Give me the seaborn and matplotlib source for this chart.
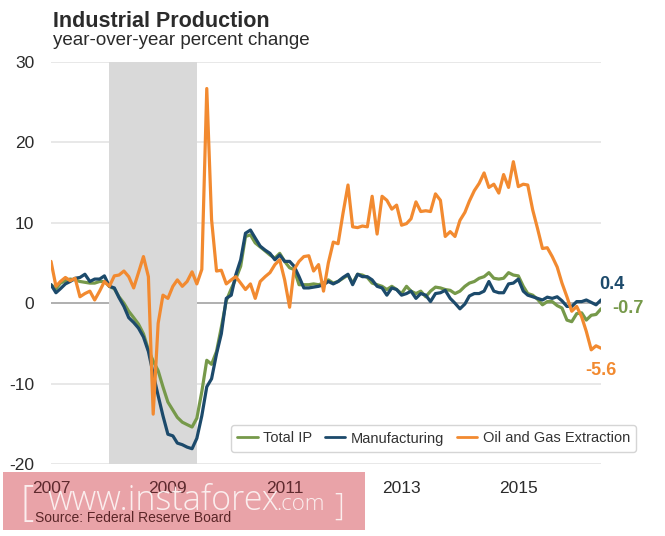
import pandas as pd
import matplotlib.pyplot as plt
import seaborn as sns
from matplotlib.lines import Line2D
from matplotlib.patches import Rectangle

# monthly year-over-year % change, Jan 2007 .. Jun 2016
first_month = "2007-01-01"

total_ip = [
    2.3, 1.8, 2.5, 2.8, 3.0, 2.9, 2.7, 2.6, 2.5, 2.5,
    2.7, 2.7, 2.1, 1.8, 0.8, 0.0, -1.0, -1.8, -2.6, -3.8,
    -5.8, -7.2, -8.4, -10.4, -12.3, -13.3, -14.2, -14.8, -15.1, -15.4,
    -14.3, -11.0, -7.1, -7.6, -6.0, -3.0, 0.3, 1.8, 3.0, 4.6,
    8.3, 8.5, 7.5, 7.0, 6.5, 6.0, 5.6, 6.2, 5.2, 4.4,
    4.2, 2.3, 2.3, 2.3, 2.4, 2.3, 2.5, 2.9, 2.5, 2.7,
    3.1, 3.5, 2.5, 3.6, 3.5, 3.2, 2.5, 2.3, 2.1, 1.7,
    2.1, 1.7, 1.2, 2.1, 1.5, 1.2, 1.5, 0.8, 1.5, 2.0,
    1.9, 1.7, 1.6, 1.2, 1.5, 2.1, 2.5, 2.7, 3.1, 3.3,
    3.8, 3.1, 3.0, 3.1, 3.8, 3.5, 3.4, 2.1, 1.2, 1.0,
    0.5, -0.2, 0.2, 0.2, -0.3, -0.6, -2.1, -2.3, -1.3, -1.2,
    -2.1, -1.5, -1.4, -0.7,
]

manufacturing = [
    2.3, 1.3, 1.8, 2.4, 2.7, 3.1, 3.2, 3.6, 2.7, 3.0,
    3.0, 3.4, 2.1, 1.9, 0.7, -0.4, -1.8, -2.4, -3.1, -4.2,
    -6.0, -8.8, -11.5, -14.0, -16.3, -16.5, -17.4, -17.6, -17.9, -18.1,
    -16.8, -14.0, -10.4, -9.4, -6.3, -3.8, 0.6, 1.0, 3.5, 5.4,
    8.7, 9.1, 8.1, 7.1, 6.6, 6.2, 5.4, 6.0, 5.2, 5.2,
    4.6, 3.3, 1.9, 1.9, 2.0, 2.1, 2.3, 2.7, 2.4, 2.7,
    3.2, 3.6, 2.3, 3.6, 3.3, 3.3, 2.9, 2.1, 1.9, 1.0,
    1.9, 1.7, 1.0, 1.2, 1.5, 0.6, 1.2, 1.0, 0.2, 1.2,
    1.3, 1.6, 0.6, 0.0, -0.7, -0.1, 0.9, 1.2, 1.2, 1.5,
    2.7, 1.5, 1.3, 1.3, 2.4, 2.5, 3.0, 1.5, 1.0, 0.8,
    0.6, 0.4, 0.75, 0.6, 0.8, 0.3, -0.4, -0.4, 0.2, 0.2,
    0.4, 0.1, -0.2, 0.4,
]

oil_gas = [
    5.2, 2.1, 2.7, 3.2, 2.8, 3.1, 0.8, 1.2, 1.5, 0.4,
    1.5, 2.7, 2.1, 3.4, 3.5, 4.0, 3.3, 1.9, 3.8, 5.8,
    3.3, -13.8, -2.5, 1.0, 0.6, 2.1, 2.9, 2.1, 2.7, 3.9,
    2.4, 4.2, 26.7, 10.4, 4.0, 4.1, 2.4, 2.9, 3.3, 2.5,
    1.7, 2.4, 0.6, 2.7, 3.3, 3.8, 4.8, 5.4, 2.9, -0.5,
    4.2, 5.2, 5.8, 5.9, 4.0, 4.8, 1.5, 5.0, 7.6, 7.4,
    11.2, 14.7, 9.5, 9.4, 9.6, 9.5, 13.3, 8.6, 13.3, 12.8,
    11.7, 12.2, 9.7, 9.9, 10.5, 12.6, 11.4, 11.5, 11.4, 13.6,
    12.8, 8.3, 8.9, 8.3, 10.3, 11.3, 12.7, 14.0, 14.9, 16.2,
    14.4, 14.8, 13.7, 16.0, 14.4, 17.6, 14.5, 14.8, 14.7, 11.6,
    9.3, 6.8, 6.9, 5.8, 4.5, 2.5, 0.8, -1.0, -0.4, -1.7,
    -3.5, -5.8, -5.3, -5.6,
]

series_names = ["Total IP", "Manufacturing", "Oil and Gas Extraction"]
series_colors = ["#76994a", "#1c4a6b", "#f28a30"]
recession_start = "2008-01-01"
recession_end = "2009-07-01"
year_ticks = ["2007", "2009", "2011", "2013", "2015"]

dates = pd.date_range(first_month, periods=len(total_ip), freq="MS")
wide = pd.DataFrame({"date": dates, series_names[0]: total_ip,
                     series_names[1]: manufacturing, series_names[2]: oil_gas})
df = wide.melt(id_vars="date", var_name="series", value_name="pct")

sns.set_theme(style="white")
plt.rcParams["font.family"] = ["Liberation Sans", "DejaVu Sans"]
plt.rcParams["axes.unicode_minus"] = False

fig = plt.figure(figsize=(6.65, 5.36), dpi=100)
ax = fig.add_axes([51 / 665, 72 / 536, 550 / 665, 402 / 536])
ax.patch.set_alpha(0)

# grid lines, then recession shading on top of them
for yv in [-20, -10, 10, 20, 30]:
    ax.axhline(yv, color="#e2e2e2", lw=1.1, zorder=0)
ax.axhline(0, color="#9a9a9a", lw=1.1, zorder=0.5)
ax.axvspan(pd.Timestamp(recession_start), pd.Timestamp(recession_end),
           color="#d9d9d9", lw=0, zorder=1)

sns.lineplot(data=df, x="date", y="pct", hue="series", hue_order=series_names,
             palette=dict(zip(series_names, series_colors)), linewidth=2.3,
             legend=False, ax=ax, zorder=3)

ax.set_xlim(dates[0], dates[-1])
ax.set_ylim(-20, 30)
ax.set_yticks([-20, -10, 0, 10, 20, 30])
ax.set_xticks([pd.Timestamp(y + "-01-01") for y in year_ticks])
ax.set_xticklabels(year_ticks)
ax.tick_params(axis="both", length=0, labelsize=12.5, labelcolor="#2b2b2b")
ax.tick_params(axis="y", pad=12)
ax.tick_params(axis="x", pad=12)
# labels sitting on the pink band look darker/reddish
for lbl in ax.get_xticklabels()[:3]:
    lbl.set_color("#5e2a2e")
ax.set_xlabel("")
ax.set_ylabel("")
for s in ax.spines.values():
    s.set_visible(False)

# end-of-line value labels
last = dates[-1]
ax.annotate("0.4", xy=(last, manufacturing[-1]), xytext=(-1.5, 11), textcoords="offset points",
            ha="left", va="center", color=series_colors[1], fontsize=13, fontweight="bold")
ax.annotate("-0.7", xy=(last, total_ip[-1]), xytext=(8, 0), textcoords="offset points",
            ha="left", va="center", color=series_colors[0], fontsize=13, fontweight="bold")
ax.annotate("-5.6", xy=(last, oil_gas[-1]), xytext=(-11, -16), textcoords="offset points",
            ha="left", va="center", color=series_colors[2], fontsize=13, fontweight="bold")

handles = [Line2D([0], [0], color=c, lw=2) for c in series_colors]
leg = fig.legend(handles, series_names, loc="center",
                 bbox_to_anchor=(433.5 / 665, 1 - 438.5 / 536), ncol=3, frameon=True,
                 fontsize=10.5, handlelength=1.4, handletextpad=0.35, columnspacing=0.9,
                 borderpad=0.45, fancybox=True, edgecolor="#d5d5d5", facecolor="white",
                 framealpha=1)
for t in leg.get_texts():
    t.set_color("#333333")

fig.text(53 / 665, 1 - 27 / 536, "Industrial Production", fontsize=15.5, fontweight="bold",
         color="#2b2b2b", va="baseline")
fig.text(53 / 665, 1 - 45 / 536, "year-over-year percent change", fontsize=13.5,
         color="#2b2b2b", va="baseline")

# watermark band
fig.patches.append(Rectangle((3 / 665, 6 / 536), 362 / 665, 58 / 536, transform=fig.transFigure,
                             facecolor="#e9a3a8", edgecolor="none", zorder=-1))
fig.text(35 / 665, 1 - 522 / 536, "Source: Federal Reserve Board", fontsize=10,
         color="#5a2628", va="baseline", zorder=5)
wm = dict(color="#fbeeee", va="baseline", zorder=6, family=["Open Sans", "DejaVu Sans"],
          fontweight="light")
fig.text(20 / 665, 1 - 515 / 536, "[", fontsize=30, **wm)
fig.text(47 / 665, 1 - 510 / 536, "www.instaforex", fontsize=24.5, **wm)
fig.text(276 / 665, 1 - 510 / 536, ".com", fontsize=16, **wm)
fig.text(334 / 665, 1 - 515 / 536, "]", fontsize=22, **wm)

fig.savefig("out.png", dpi=100)
